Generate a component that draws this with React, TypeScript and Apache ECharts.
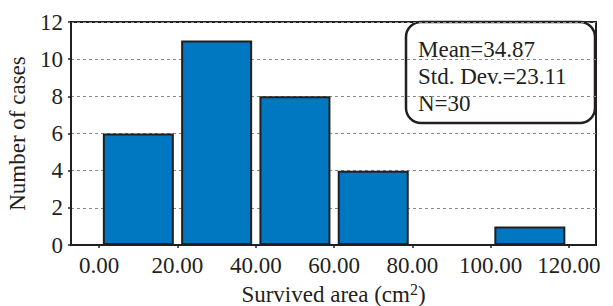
import React, { useEffect, useRef } from "react";
import * as echarts from "echarts";

const binMids = [10, 30, 50, 70, 90, 110];
const counts = [6, 11, 8, 4, 0, 1];
const xTicks = [0, 20, 40, 60, 80, 100, 120];
const statsLines = ["Mean=34.87", "Std. Dev.=23.11", "N=30"];

const FONT = "Liberation Serif, DejaVu Serif, Times New Roman, serif";
const TXT = "#231f20";

export default function App() {
  const ref = useRef<HTMLDivElement>(null);
  useEffect(() => {
    if (!ref.current) return;
    const chart = echarts.init(ref.current, undefined, { renderer: "svg" });
    chart.setOption({
      animation: false,
      backgroundColor: "#ffffff",
      textStyle: { fontFamily: FONT },
      grid: {
        left: 71,
        right: 17,
        top: 22,
        bottom: 61,
        containLabel: false,
        outerBoundsMode: "none",
        show: true,
        borderColor: "#231f20",
        borderWidth: 2,
        backgroundColor: "transparent",
      },
      xAxis: {
        type: "value",
        min: -7.2,
        max: 126.9,
        name: "Survived area (cm{sup|2})",
        nameLocation: "middle",
        nameGap: 32,
        nameTextStyle: {
          fontFamily: FONT,
          fontSize: 23,
          color: TXT,
          rich: {
            sup: { fontFamily: FONT, fontSize: 16, color: TXT, padding: [0, 0, 10, 0] },
          },
        },
        axisLine: { show: true, onZero: false, lineStyle: { color: TXT, width: 2 } },
        axisTick: { show: true, customValues: xTicks, length: 3, lineStyle: { color: TXT, width: 1.5 } },
        axisLabel: {
          customValues: xTicks,
          formatter: (v: number) => v.toFixed(2),
          fontFamily: FONT,
          fontSize: 23,
          color: TXT,
          margin: 9,
        },
        splitLine: { show: false },
      },
      yAxis: {
        type: "value",
        min: 0,
        max: 12,
        interval: 2,
        name: "Number of cases",
        nameLocation: "middle",
        nameGap: 40,
        nameTextStyle: { fontFamily: FONT, fontSize: 23, color: TXT },
        axisLine: { show: true, onZero: false, lineStyle: { color: TXT, width: 2 } },
        axisTick: { show: true, length: 3, lineStyle: { color: TXT, width: 1.5 } },
        axisLabel: { fontFamily: FONT, fontSize: 23, color: TXT, margin: 8 },
        splitLine: { show: true, lineStyle: { color: "#8a8a8a", type: [3, 3], width: 1 } },
      },
      series: [
        {
          type: "bar",
          data: binMids.map((m, i) => [m, counts[i]]),
          barWidth: 71,
          itemStyle: { color: "#0078c1", borderColor: "#231f20", borderWidth: 2 },
          z: 3,
        },
      ],
      graphic: [
        {
          type: "group",
          z: 100,
          children: [
            {
              type: "rect",
              shape: { x: 406, y: 22, width: 189, height: 101, r: 15 },
              style: { fill: "#ffffff", stroke: "#231f20", lineWidth: 2.5 },
            },
            {
              type: "text",
              x: 418,
              y: 36,
              style: {
                text: statsLines.join("\n"),
                fontFamily: FONT,
                fontSize: 23,
                fill: TXT,
                lineHeight: 27,
              },
            },
          ],
        },
      ],
    });
    return () => chart.dispose();
  }, []);
  return <div ref={ref} style={{ width: 613, height: 306, marginLeft: -8, marginTop: -8 }} />;
}
